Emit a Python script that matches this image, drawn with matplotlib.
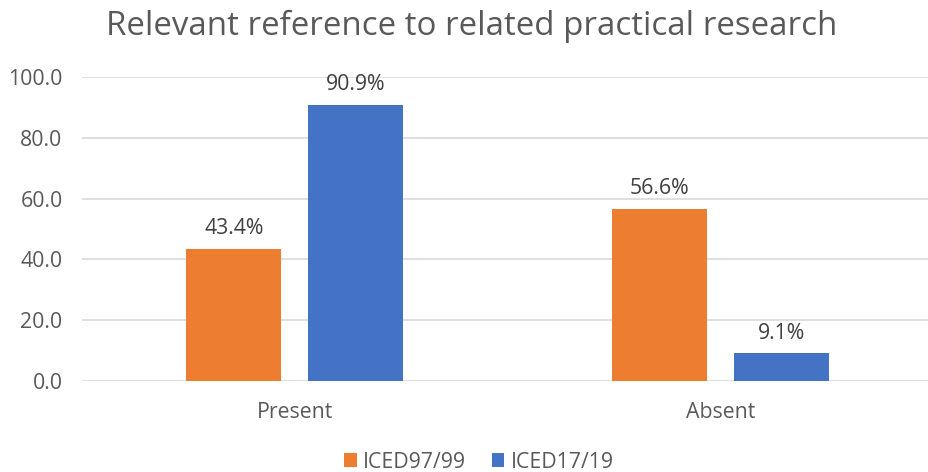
import matplotlib.pyplot as plt
import numpy as np

# Datos del gráfico
categorias = ['Present', 'Absent']
iced_97_99 = [43.4, 56.6]
iced_17_19 = [90.9, 9.1]
series = ['ICED97/99', 'ICED17/19']
colores = ['#ED7D31', '#4472C4']

plt.rcParams['font.family'] = ['Open Sans', 'DejaVu Sans']
gris = '#595959'

fig = plt.figure(figsize=(9.29, 4.72), dpi=100)
ax = fig.add_axes([82 / 929, 91 / 472, 851 / 929, 304 / 472])

x = np.arange(len(categorias))
ancho = 0.2235
desp = 0.1435

b1 = ax.bar(x - desp, iced_97_99, ancho, color=colores[0], label=series[0], zorder=3)
b2 = ax.bar(x + desp, iced_17_19, ancho, color=colores[1], label=series[1], zorder=3)

# Etiquetas de datos
for barras in (b1, b2):
    for b in barras:
        ax.annotate(f'{b.get_height():.1f}%', (b.get_x() + b.get_width() / 2, b.get_height()),
                    xytext=(0, 7), textcoords='offset points', ha='center', va='bottom',
                    fontsize=15.3, color='#404040')

ax.set_xlim(-0.5, 1.5)
ax.set_ylim(0, 100)
ax.set_yticks(np.arange(0, 101, 20))
ax.set_yticklabels([f'{v:.1f}' for v in np.arange(0, 101, 20)])
ax.set_xticks(x)
ax.set_xticklabels(categorias)
ax.tick_params(axis='both', length=0, labelsize=15.3, colors=gris)
ax.tick_params(axis='y', pad=14)
ax.tick_params(axis='x', pad=15)
ax.grid(axis='y', color='#D9D9D9', linewidth=1.2, zorder=0)
for s in ax.spines.values():
    s.set_visible(False)

fig.suptitle('Relevant reference to related practical research', x=472 / 929, y=0.98,
             fontsize=23.8, color=gris)

fig.legend(loc='center', bbox_to_anchor=(479 / 929, 10 / 472), ncol=2, frameon=False,
           fontsize=15.3, labelcolor=gris, handlelength=0.6, handleheight=0.6,
           handletextpad=0.3, columnspacing=1.2)

plt.savefig('out.png', dpi=100)
